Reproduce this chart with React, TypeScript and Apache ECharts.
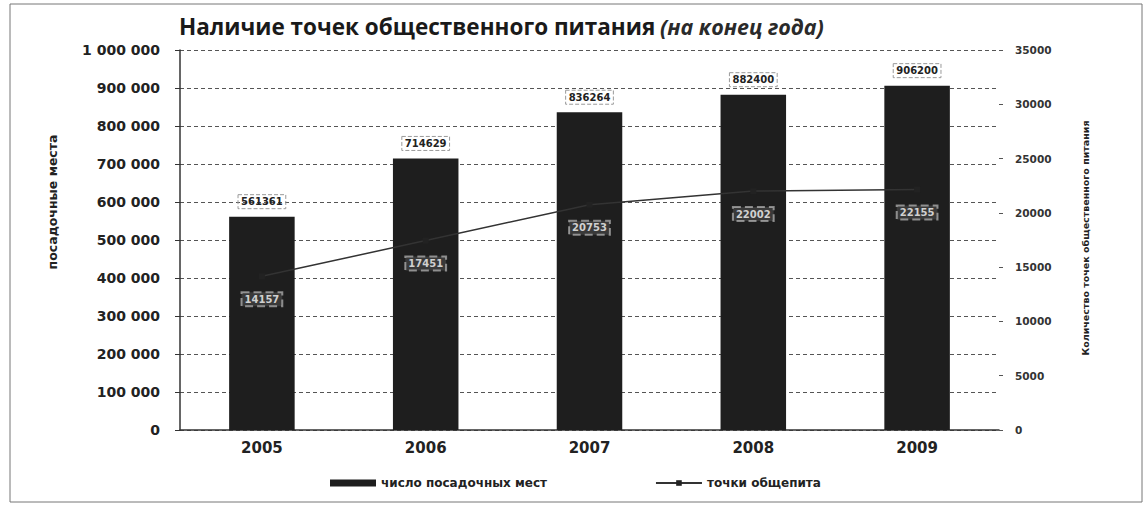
import React, { useEffect, useRef } from "react";
import * as echarts from "echarts";

const years = ["2005", "2006", "2007", "2008", "2009"];
const seats = [561361, 714629, 836264, 882400, 906200];
const points = [14157, 17451, 20753, 22002, 22155];
const seatsName = "число посадочных мест";
const pointsName = "точки общепита";
const titleMain = "Наличие точек общественного питания";
const titleNote = "(на конец года)";
const leftAxisName = "посадочные места";
const rightAxisName = "Количество точек общественного питания";

const fmtSpace = (v: number) => String(v).replace(/\B(?=(\d{3})+(?!\d))/g, " ");

export default function App() {
  const ref = useRef<HTMLDivElement>(null);
  useEffect(() => {
    if (!ref.current) return;
    const chart = echarts.init(ref.current, undefined, { renderer: "svg" });
    const font = "'Open Sans', sans-serif";
    const wide = "'DejaVu Sans', sans-serif";
    chart.setOption({
      animation: false,
      backgroundColor: "#ffffff",
      textStyle: { fontFamily: font },
      title: {
        left: 174,
        top: 10,
        text: "{b|" + titleMain + "} {i|" + titleNote + "}",
        textStyle: {
          rich: {
            b: { fontFamily: font, fontWeight: "bold", fontSize: 22.5, color: "#1a1a1a" },
            i: { fontFamily: font, fontStyle: "italic", fontWeight: "bold", fontSize: 21.5, color: "#2a2a2a" },
          },
        },
      },
      grid: { left: 180, right: 149, top: 50, bottom: 78 },
      legend: {
        bottom: 14,
        left: 325,
        itemGap: 108,
        itemWidth: 46,
        itemHeight: 7,
        textStyle: { fontFamily: wide, fontWeight: "bold", fontSize: 12, color: "#222" },
        data: [
          { name: seatsName, icon: "rect" },
          { name: pointsName },
        ],
      },
      xAxis: {
        type: "category",
        data: years,
        axisLine: { lineStyle: { color: "#333", width: 1.5 } },
        axisTick: { show: false },
        axisLabel: { fontFamily: wide, fontWeight: "bold", fontSize: 15, color: "#222", margin: 10 },
      },
      yAxis: [
        {
          type: "value",
          min: 0,
          max: 1000000,
          interval: 100000,
          axisLine: { show: true, lineStyle: { color: "#333", width: 1.5 } },
          axisTick: { show: true, inside: false, length: 5, lineStyle: { color: "#333" } },
          axisLabel: {
            fontFamily: wide,
            fontWeight: "bold",
            fontSize: 14,
            color: "#222",
            margin: 20,
            formatter: (v: number) => fmtSpace(v),
          },
          splitLine: { show: true, lineStyle: { color: "#555", type: [4, 3], width: 1 } },
        },
        {
          type: "value",
          min: 0,
          max: 35000,
          interval: 5000,
          position: "right",
          axisLine: { show: false },
          axisTick: { show: true, length: 4, lineStyle: { color: "#555" } },
          axisLabel: {
            fontFamily: wide,
            fontWeight: "bold",
            fontSize: 10.5,
            color: "#333",
            margin: 16,
            formatter: (v: number) => String(v),
          },
          splitLine: { show: false },
        },
      ],
      graphic: [
        {
          type: "rect",
          shape: { x: 10, y: 4, width: 1132, height: 498 },
          style: { fill: "none", stroke: "#777", lineWidth: 1 },
          silent: true,
        },
        {
          type: "text",
          x: 52,
          y: 202,
          rotation: Math.PI / 2,
          style: {
            text: leftAxisName,
            fontFamily: wide,
            fontWeight: "bold",
            fontSize: 12.5,
            fill: "#222",
            align: "center",
            verticalAlign: "middle",
          },
        },
        {
          type: "text",
          x: 1085,
          y: 238,
          rotation: Math.PI / 2,
          style: {
            text: rightAxisName,
            fontFamily: wide,
            fontWeight: "bold",
            fontSize: 9.5,
            fill: "#222",
            align: "center",
            verticalAlign: "middle",
          },
        },
      ],
      series: [
        {
          name: seatsName,
          type: "bar",
          data: seats,
          yAxisIndex: 0,
          barWidth: "40%",
          itemStyle: { color: "#1e1e1e" },
          label: {
            show: true,
            position: "top",
            distance: 8,
            fontFamily: wide,
            fontWeight: "bold",
            fontSize: 10,
            color: "#222",
            padding: [2, 3],
            borderColor: "#999",
            borderWidth: 1,
            borderType: "dashed",
          },
        },
        {
          name: pointsName,
          type: "line",
          data: points,
          yAxisIndex: 1,
          symbol: "rect",
          symbolSize: 6,
          lineStyle: { color: "#333", width: 1.5 },
          itemStyle: { color: "#222" },
          label: {
            show: true,
            position: "bottom",
            distance: 13,
            fontFamily: wide,
            fontWeight: "bold",
            fontSize: 10,
            color: "#d0d0d0",
            padding: [2, 3],
            backgroundColor: "rgba(255,255,255,0.12)",
            borderColor: "#888",
            borderWidth: 1,
            borderType: "dashed",
          },
        },
      ],
    });
    return () => chart.dispose();
  }, []);
  return (
    <div
      ref={ref}
      style={{ position: "fixed", left: 0, top: 0, width: 1148, height: 508 }}
    />
  );
}
